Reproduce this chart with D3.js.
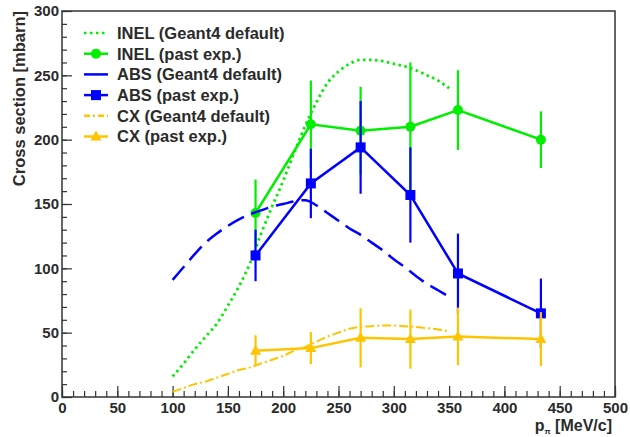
<!DOCTYPE html>
<html>
<head>
<meta charset="utf-8">
<script src="https://cdn.jsdelivr.net/npm/d3@7"></script>
<style>
  body { margin: 0; background: #ffffff; }
  text { font-family: 'Liberation Sans', Arial, Helvetica, sans-serif; font-weight: bold; fill: #2b2b2b; }
</style>
</head>
<body>
<div id="chart"></div>
<script>
// Geant4 default curves (momentum in MeV/c, cross section in mbarn)
const g4Momentum = [100, 110, 120, 130, 140, 150, 160, 170, 180, 190, 200, 210, 220, 230, 240, 250, 260, 270, 280, 290, 300, 310, 320, 330, 340, 350]
const inelG4 = [16, 26, 37, 47, 57, 71, 86, 104, 127, 148, 168, 190, 211, 229, 244, 253, 259, 262, 262, 261, 259, 257, 254, 250, 246, 240]
const absG4 = [91, 101, 111, 120, 127, 133, 138, 142, 145, 148, 150, 152, 153, 149, 143, 137, 131, 126, 120, 114, 107, 101, 94, 88, 83, 78]
const cxG4 = [4, 7, 10, 12, 15, 18, 21, 23, 26, 29, 32, 36, 39, 43, 47, 50, 53, 54.5, 55, 55.5, 55.5, 55, 54.5, 53.5, 52.5, 51]

// past experiments
const expMomentum = [175, 225, 270, 315, 358, 433]
const inelExp = [143, 212, 207, 210, 223, 200]
const inelErr = [26, 34, 34, 50, 31, 22]
const absExp = [110, 166, 194, 157, 96, 65]
const absErr = [20, 27, 36, 37, 31, 27]
const cxExp = [36, 38, 46, 45, 47, 45]
const cxErr = [12, 12.5, 23, 23, 22.5, 21]

const legendLabels = ['INEL (Geant4 default)', 'INEL (past exp.)', 'ABS (Geant4 default)', 'ABS (past exp.)', 'CX (Geant4 default)', 'CX (past exp.)']

const GREEN = '#00ee00'
const BLUE = '#0000ff'
const YELLOW = '#ffc400'

const W = 630
const H = 437
const frameL = 62
const frameR = 615
const frameT = 11
const frameB = 397

const x = d3.scaleLinear().domain([0, 500]).range([frameL, frameR])
const y = d3.scaleLinear().domain([0, 300]).range([frameB, frameT])

const svg = d3.select('#chart').append('svg').attr('width', W).attr('height', H)
svg.append('rect').attr('width', W).attr('height', H).attr('fill', '#ffffff')

// ticks inside the frame
const xMinor = svg.append('g').attr('transform', `translate(0,${frameB})`)
  .call(d3.axisBottom(x).tickValues(d3.range(0, 501, 10)).tickSize(-6).tickFormat(''))
const xMajor = svg.append('g').attr('transform', `translate(0,${frameB})`)
  .call(d3.axisBottom(x).tickValues(d3.range(0, 501, 50)).tickSize(-11).tickPadding(5).tickFormat(d3.format('d')))
const yMinor = svg.append('g').attr('transform', `translate(${frameL},0)`)
  .call(d3.axisLeft(y).tickValues(d3.range(0, 301, 10)).tickSize(-5).tickFormat(''))
const yMajor = svg.append('g').attr('transform', `translate(${frameL},0)`)
  .call(d3.axisLeft(y).tickValues(d3.range(0, 301, 50)).tickSize(-10).tickPadding(3).tickFormat(d3.format('d')))

;[xMinor, xMajor, yMinor, yMajor].forEach((g) => {
  g.select('.domain').remove()
  g.selectAll('line').attr('stroke', '#333').attr('stroke-width', 1.2)
  g.selectAll('text').attr('font-size', 15).attr('fill', '#2b2b2b')
    .attr('font-family', "'Liberation Sans', Arial, sans-serif").attr('font-weight', 'bold')
})

// frame
svg.append('rect')
  .attr('x', frameL).attr('y', frameT).attr('width', frameR - frameL).attr('height', frameB - frameT)
  .attr('fill', 'none').attr('stroke', '#333').attr('stroke-width', 1.5)

// axis titles
svg.append('text')
  .attr('transform', `translate(25,${frameT}) rotate(-90)`)
  .attr('text-anchor', 'end')
  .attr('font-size', 16.5)
  .text('Cross section [mbarn]')

const xt = svg.append('text')
  .attr('x', 612).attr('y', 431)
  .attr('text-anchor', 'end')
  .attr('font-size', 16)
xt.append('tspan').text('p')
xt.append('tspan').attr('font-size', 8).attr('dy', 3).text('π')
xt.append('tspan').attr('dy', -3).text(' [MeV/c]')

const plot = svg.append('g')

const curve = d3.line().x((d) => x(d[0])).y((d) => y(d[1])).curve(d3.curveMonotoneX)
const poly = d3.line().x((d) => x(d[0])).y((d) => y(d[1]))

const drawCurve = (vals, color, dash, width) => {
  plot.append('path')
    .attr('d', curve(g4Momentum.map((m, i) => [m, vals[i]])))
    .attr('fill', 'none')
    .attr('stroke', color)
    .attr('stroke-width', width)
    .attr('stroke-dasharray', dash)
}

const marker = (g, type, cx, cy, color) => {
  if (type === 'circle') {
    g.append('circle').attr('cx', cx).attr('cy', cy).attr('r', 5).attr('fill', color)
  } else if (type === 'square') {
    g.append('rect').attr('x', cx - 5).attr('y', cy - 5).attr('width', 10).attr('height', 10).attr('fill', color)
  } else {
    g.append('path')
      .attr('d', `M${cx},${cy - 6}L${cx + 5.5},${cy + 4}L${cx - 5.5},${cy + 4}Z`)
      .attr('fill', color)
  }
}

const drawExp = (vals, errs, color, type) => {
  const g = plot.append('g')
  expMomentum.forEach((m, i) => {
    g.append('line')
      .attr('x1', x(m)).attr('x2', x(m))
      .attr('y1', y(vals[i] - errs[i])).attr('y2', y(vals[i] + errs[i]))
      .attr('stroke', color).attr('stroke-width', 2.2)
  })
  g.append('path')
    .attr('d', poly(expMomentum.map((m, i) => [m, vals[i]])))
    .attr('fill', 'none').attr('stroke', color).attr('stroke-width', 2.5)
  expMomentum.forEach((m, i) => marker(g, type, x(m), y(vals[i]), color))
}

drawCurve(inelG4, GREEN, '2.5 3.5', 2.8)
drawExp(inelExp, inelErr, GREEN, 'circle')
drawCurve(absG4, BLUE, '18 8', 2.5)
drawExp(absExp, absErr, BLUE, 'square')
drawCurve(cxG4, YELLOW, '9 3 2 3', 2)
drawExp(cxExp, cxErr, YELLOW, 'triangle')

// legend
const legendStyles = [
  { color: GREEN, dash: '2.5 3.5', mark: null },
  { color: GREEN, dash: null, mark: 'circle' },
  { color: BLUE, dash: null, mark: null },
  { color: BLUE, dash: null, mark: 'square' },
  { color: YELLOW, dash: '6 3 2 3', mark: null },
  { color: YELLOW, dash: null, mark: 'triangle' },
]
const legend = svg.append('g')
legendLabels.forEach((label, i) => {
  const ly = 33 + i * 20.7
  const st = legendStyles[i]
  legend.append('line')
    .attr('x1', 84).attr('x2', 108).attr('y1', ly).attr('y2', ly)
    .attr('stroke', st.color).attr('stroke-width', 2.5)
    .attr('stroke-dasharray', st.dash)
  if (st.mark) marker(legend, st.mark, 96, ly, st.color)
  legend.append('text')
    .attr('x', 117).attr('y', ly).attr('dy', '0.36em')
    .attr('font-size', 16.5)
    .text(label)
})
</script>
</body>
</html>
